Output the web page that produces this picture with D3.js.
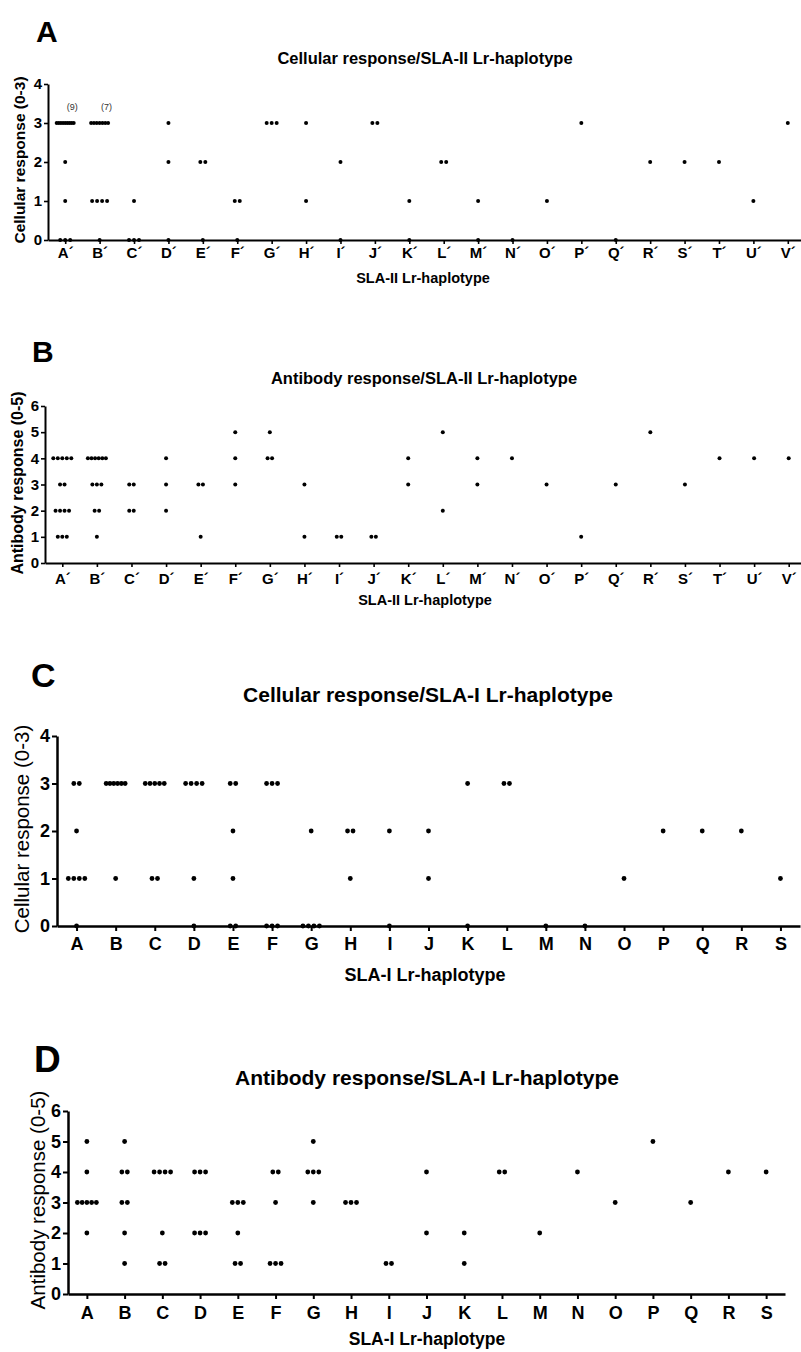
<!DOCTYPE html>
<html>
<head>
<meta charset="utf-8">
<script src="https://cdn.jsdelivr.net/npm/d3@7"></script>
<style>
  body { margin: 0; background: #fff; }
  svg { display: block; font-family: "Liberation Sans", Arial, sans-serif; }
</style>
</head>
<body>
<div id="chart"></div>
<script>
// Categories
const catsII = ['A´', 'B´', 'C´', 'D´', 'E´', 'F´', 'G´', 'H´', 'I´', 'J´', 'K´',
                'L´', 'M´', 'N´', 'O´', 'P´', 'Q´', 'R´', 'S´', 'T´', 'U´', 'V´'];
const catsI = ['A', 'B', 'C', 'D', 'E', 'F', 'G', 'H', 'I', 'J',
               'K', 'L', 'M', 'N', 'O', 'P', 'Q', 'R', 'S'];

// Individual scores per haplotype (one value per animal)
const cellularII = [
    [3, 3, 3, 3, 3, 3, 3, 3, 3, 2, 1, 0, 0, 0],
    [3, 3, 3, 3, 3, 3, 3, 1, 1, 1, 1, 0],
    [1, 0, 0, 0],
    [3, 2, 0],
    [2, 2, 0],
    [1, 1, 0],
    [3, 3, 3],
    [3, 1],
    [2, 0],
    [3, 3],
    [1, 0],
    [2, 2],
    [1, 0],
    [0],
    [1],
    [3],
    [0],
    [2],
    [2],
    [2],
    [1],
    [3]
];
const antibodyII = [
    [4, 4, 4, 4, 4, 3, 3, 2, 2, 2, 2, 1, 1, 1],
    [4, 4, 4, 4, 4, 4, 3, 3, 3, 2, 2, 1],
    [3, 3, 2, 2],
    [4, 3, 2],
    [3, 3, 1],
    [5, 4, 3],
    [5, 4, 4],
    [3, 1],
    [1, 1],
    [1, 1],
    [4, 3],
    [5, 2],
    [4, 3],
    [4],
    [3],
    [1],
    [3],
    [5],
    [3],
    [4],
    [4],
    [4]
];
const cellularI = [
    [3, 3, 2, 1, 1, 1, 1, 0],
    [3, 3, 3, 3, 3, 3, 1],
    [3, 3, 3, 3, 3, 1, 1],
    [3, 3, 3, 3, 1, 0],
    [3, 3, 2, 1, 0, 0],
    [3, 3, 3, 0, 0, 0],
    [2, 0, 0, 0, 0],
    [2, 2, 1],
    [2, 0],
    [2, 1],
    [3, 0],
    [3, 3],
    [0],
    [0],
    [1],
    [2],
    [2],
    [2],
    [1]
];
const antibodyI = [
    [5, 4, 3, 3, 3, 3, 3, 2],
    [5, 4, 4, 3, 3, 2, 1],
    [4, 4, 4, 4, 2, 1, 1],
    [4, 4, 4, 2, 2, 2],
    [3, 3, 3, 2, 1, 1],
    [4, 4, 3, 1, 1, 1],
    [5, 4, 4, 4, 3],
    [3, 3, 3],
    [1, 1],
    [4, 2],
    [2, 1],
    [4, 4],
    [2],
    [4],
    [3],
    [5],
    [3],
    [4],
    [4]
];

// Tick labels
const cellTicks = [0, 1, 2, 3, 4];
const abTicks = [0, 1, 2, 3, 4, 5, 6];

// Count notes shown above crowded rows in panel A
const notesA = [{cat: 'A´', value: 3, text: '(9)'}, {cat: 'B´', value: 3, text: '(7)'}];

//Panel layout
const panels = [
    {letter: 'A', lx: 36, ly: 42, lsize: 30,
     title: 'Cellular response/SLA-II Lr-haplotype', tx: 425, ty: 64, tsize: 16.5,
     ylabel: 'Cellular response (0-3)', ylx: 25, yly: 160, ylsize: 15.5, ylweight: 'bold',
     xlabel: 'SLA-II Lr-haplotype', xlx: 423, xly: 283, xlsize: 14.5,
     cats: catsII, values: cellularII, ticks: cellTicks, ymax: 4,
     left: 48, right: 805, top: 84, bottom: 240,
     tickFont: 15, tickSize: 4, xpad: 3, stroke: 2, r: 2, gap: 5, cap: 17,
     notes: notesA},
    {letter: 'B', lx: 32, ly: 362, lsize: 30,
     title: 'Antibody response/SLA-II Lr-haplotype', tx: 424, ty: 384, tsize: 16.5,
     ylabel: 'Antibody response (0-5)', ylx: 23, yly: 483, ylsize: 16, ylweight: 'bold',
     xlabel: 'SLA-II Lr-haplotype', xlx: 425, xly: 605, xlsize: 14.5,
     cats: catsII, values: antibodyII, ticks: abTicks, ymax: 6,
     left: 45, right: 806, top: 406, bottom: 563,
     tickFont: 15, tickSize: 4, xpad: 6, stroke: 2, r: 2, gap: 4.5, cap: 18,
     notes: []},
    {letter: 'C', lx: 31, ly: 687, lsize: 34,
     title: 'Cellular response/SLA-I Lr-haplotype', tx: 428, ty: 702, tsize: 21,
     ylabel: 'Cellular response (0-3)', ylx: 29, yly: 829, ylsize: 20.5, ylweight: 'normal',
     xlabel: 'SLA-I Lr-haplotype', xlx: 425, xly: 981, xlsize: 18,
     cats: catsI, values: cellularI, ticks: cellTicks, ymax: 4,
     left: 57, right: 800, top: 736, bottom: 926,
     tickFont: 18, tickSize: 5, xpad: 6, stroke: 2.5, r: 2.4, gap: 5.5, cap: 19,
     notes: []},
    {letter: 'D', lx: 34, ly: 1072, lsize: 37,
     title: 'Antibody response/SLA-I Lr-haplotype', tx: 427, ty: 1085, tsize: 21,
     ylabel: 'Antibody response (0-5)', ylx: 45, yly: 1200, ylsize: 20.5, ylweight: 'normal',
     xlabel: 'SLA-I Lr-haplotype', xlx: 427, xly: 1345, xlsize: 17.5,
     cats: catsI, values: antibodyI, ticks: abTicks, ymax: 6,
     left: 68, right: 785, top: 1111, bottom: 1294,
     tickFont: 18, tickSize: 5, xpad: 7, stroke: 2.5, r: 2.4, gap: 5.5, cap: 19,
     notes: []}
];

//SVG
const svg = d3.select('#chart').append('svg')
    .attr('width', 801)
    .attr('height', 1352);

function drawPanel(p) {
    const g = svg.append('g');

    const x = d3.scalePoint().domain(p.cats).range([p.left, p.right]).padding(0.5);
    const y = d3.scaleLinear().domain([0, p.ymax]).range([p.bottom, p.top]);

    //Panel letter and title
    g.append('text')
        .attr('x', p.lx).attr('y', p.ly)
        .attr('font-size', p.lsize).attr('font-weight', 'bold')
        .text(p.letter);

    g.append('text')
        .attr('x', p.tx).attr('y', p.ty)
        .attr('text-anchor', 'middle')
        .attr('font-size', p.tsize).attr('font-weight', 'bold')
        .text(p.title);

    //Y axis
    const yAxis = g.append('g')
        .attr('transform', `translate(${p.left}, 0)`)
        .call(d3.axisLeft(y).tickValues(p.ticks).tickFormat(d3.format('d'))
            .tickSize(p.tickSize).tickSizeOuter(0).tickPadding(2));

    //X axis
    const xAxis = g.append('g')
        .attr('transform', `translate(0, ${p.bottom})`)
        .call(d3.axisBottom(x).tickSize(p.tickSize).tickSizeOuter(0).tickPadding(p.xpad));

    [yAxis, xAxis].forEach(a => {
        a.select('.domain').attr('stroke', '#000').attr('stroke-width', p.stroke);
        a.selectAll('.tick line').attr('stroke', '#000').attr('stroke-width', p.stroke * 0.8);
        a.selectAll('.tick text')
            .attr('fill', '#000')
            .attr('font-size', p.tickFont)
            .attr('font-weight', 'bold')
            .attr('font-family', '"Liberation Sans", Arial, sans-serif');
    });

    //Axis titles
    g.append('text')
        .attr('transform', `translate(${p.ylx}, ${p.yly}) rotate(-90)`)
        .attr('text-anchor', 'middle')
        .attr('font-size', p.ylsize).attr('font-weight', p.ylweight)
        .text(p.ylabel);

    g.append('text')
        .attr('x', p.xlx).attr('y', p.xly)
        .attr('text-anchor', 'middle')
        .attr('font-size', p.xlsize).attr('font-weight', 'bold')
        .text(p.xlabel);

    //Spread dots sharing a value side by side around the category
    const points = [];
    p.cats.forEach((c, i) => {
        const groups = d3.group(p.values[i], v => v);
        groups.forEach((arr, v) => {
            const n = arr.length;
            const step = n > 1 ? Math.min(p.gap, p.cap / (n - 1)) : 0;
            arr.forEach((_, k) => {
                points.push({cat: c, value: v, off: (k - (n - 1) / 2) * step});
            });
        });
    });

    g.selectAll('.dot')
        .data(points)
        .enter()
        .append('circle')
        .attr('class', 'dot')
        .attr('cx', d => x(d.cat) + d.off)
        .attr('cy', d => y(d.value))
        .attr('r', p.r)
        .attr('fill', '#000');

    g.selectAll('.note')
        .data(p.notes)
        .enter()
        .append('text')
        .attr('class', 'note')
        .attr('x', d => x(d.cat) + 7)
        .attr('y', d => y(d.value) - 13)
        .attr('text-anchor', 'middle')
        .attr('font-size', 9)
        .attr('fill', '#333')
        .text(d => d.text);
}

panels.forEach(drawPanel);
</script>
</body>
</html>
